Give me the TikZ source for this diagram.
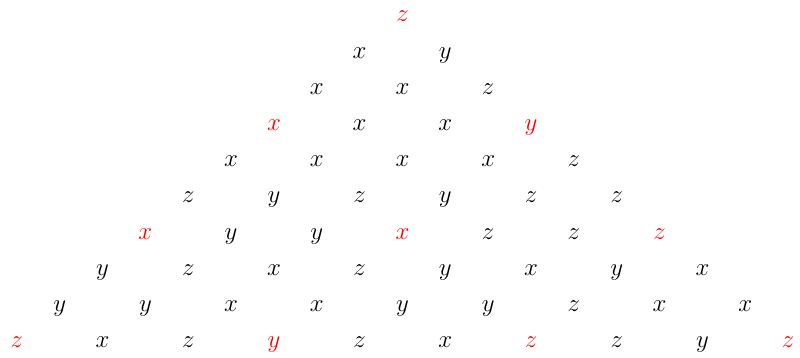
\documentclass[tikz,border=0pt]{standalone}
\usepackage{xcolor}
\begin{document}
\begin{tikzpicture}[x=1pt,y=1pt,
  letter/.style={anchor=base,inner sep=0pt,font=\fontsize{27}{30}\selectfont},
  hot/.style={text=red}]
\useasboundingbox (0,0) rectangle (800,-358);
\def\rows{{"z"},{"x","y"},{"x","x","z"},{"x","x","x","y"},{"x","x","x","x","z"},{"z","y","z","y","z","z"},{"x","y","y","x","z","z","z"},{"y","z","x","z","y","x","y","x"},{"y","y","x","x","y","y","z","x","x"},{"z","x","z","y","z","x","z","z","y","z"}}
\foreach \r/\lst in {0/{z},1/{x,y},2/{x,x,z},3/{x,x,x,y},4/{x,x,x,x,z},5/{z,y,z,y,z,z},6/{x,y,y,x,z,z,z},7/{y,z,x,z,y,x,y,x},8/{y,y,x,x,y,y,z,x,x},9/{z,x,z,y,z,x,z,z,y,z}}{
  \foreach \c [count=\k from 0] in \lst {
    \pgfmathtruncatemacro{\rm}{mod(\r,3)}
    \pgfmathtruncatemacro{\km}{mod(\k,3)}
    \pgfmathsetmacro{\px}{402.5+(\k-\r/2)*85.7}
    \pgfmathsetmacro{\py}{-(15+\r*36.2)-7}
    \ifnum\rm=0 \ifnum\km=0
      \node[letter,hot] (n\r-\k) at (\px,\py) {$\c$};
    \else
      \node[letter] (n\r-\k) at (\px,\py) {$\c$};
    \fi\else
      \node[letter] (n\r-\k) at (\px,\py) {$\c$};
    \fi
  }
}
\end{tikzpicture}
\end{document}
